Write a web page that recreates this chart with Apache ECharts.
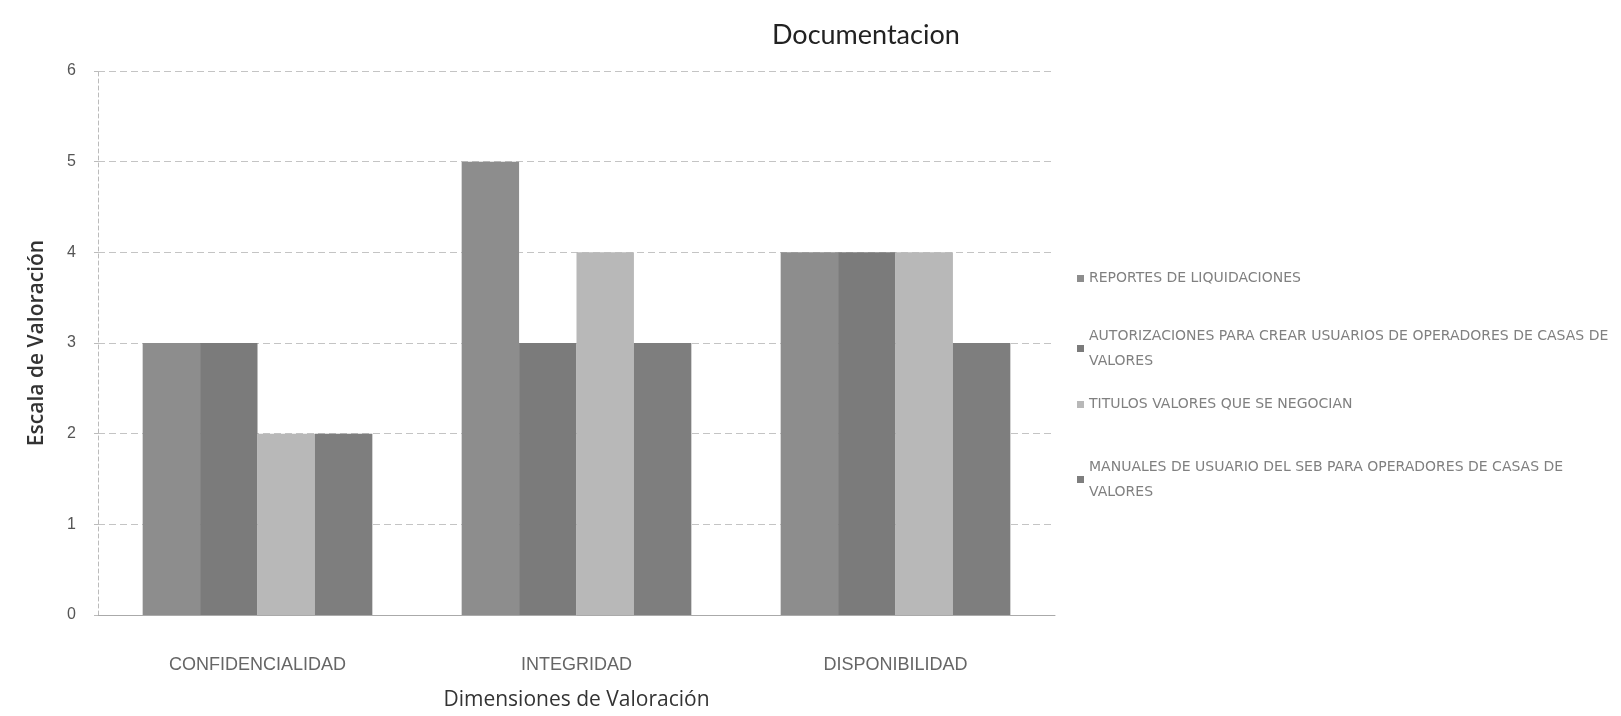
<!DOCTYPE html>
<html>
<head>
<meta charset="utf-8">
<script src="https://cdn.jsdelivr.net/npm/echarts@6/dist/echarts.min.js"></script>
<style>
    html, body { margin: 0; padding: 0; background: #fff; }
    #chart { width: 1621px; height: 716px; }
</style>
</head>
<body>
<div id="chart"></div>
<script>
    // datos
    var categorias = ["CONFIDENCIALIDAD", "INTEGRIDAD", "DISPONIBILIDAD"];
    var nombresSeries = [
        "REPORTES DE LIQUIDACIONES",
        "AUTORIZACIONES PARA CREAR USUARIOS DE OPERADORES DE CASAS DE VALORES",
        "TITULOS VALORES QUE SE NEGOCIAN",
        "MANUALES DE USUARIO DEL SEB PARA OPERADORES DE CASAS DE VALORES"
    ];
    var reportes = [3, 5, 4];
    var autorizaciones = [3, 3, 4];
    var titulos = [2, 4, 4];
    var manuales = [2, 3, 3];
    var ticksY = [0, 1, 2, 3, 4, 5, 6];

    var colores = ["#8d8d8d", "#7b7b7b", "#b8b8b8", "#7e7e7e"];
    var valores = [reportes, autorizaciones, titulos, manuales];

    var chart = echarts.init(document.getElementById("chart"));

    // una leyenda por serie, para poder separarlas como en el original
    var leyendaTop = [273, 343, 399, 474];
    var legends = nombresSeries.map(function (n, i) {
        var dosLineas = / DE VALORES$/.test(n);
        return {
            data: [n],
            left: 1072,
            top: dosLineas ? leyendaTop[i] - 37 : leyendaTop[i] - 12,
            itemWidth: 7,
            itemHeight: 7,
            itemGap: 6,
            icon: "rect",
            selectedMode: false,
            formatter: function (name) {
                return name.replace(/ DE VALORES$/, " DE\nVALORES");
            },
            textStyle: {
                fontFamily: "DejaVu Sans",
                fontSize: 14,
                color: "#808080",
                lineHeight: 25,
                padding: dosLineas ? [25, 0, 0, 0] : 0
            }
        };
    });

    var option = {
        backgroundColor: "#fff",
        animation: false,
        title: {
            text: "Documentacion",
            left: 767,
            top: 17,
            textStyle: {
                fontFamily: "Lato",
                fontSize: 27,
                fontWeight: "normal",
                color: "#222"
            }
        },
        legend: legends,
        grid: {
            left: 98,
            right: 566,
            top: 71,
            bottom: 100
        },
        xAxis: {
            type: "category",
            data: categorias,
            name: "Dimensiones de Valoración",
            nameLocation: "middle",
            nameGap: 75,
            nameTextStyle: {
                fontFamily: "Open Sans",
                fontSize: 21,
                color: "#333"
            },
            axisLine: {
                lineStyle: { color: "#aaa", width: 1 }
            },
            axisTick: { show: false },
            axisLabel: {
                margin: 41,
                fontFamily: "Liberation Sans",
                fontSize: 18,
                color: "#666"
            }
        },
        yAxis: {
            type: "value",
            min: 0,
            max: 6,
            interval: 1,
            name: "Escala de Valoración",
            nameLocation: "middle",
            nameGap: 50,
            nameTextStyle: {
                fontFamily: "Open Sans",
                fontSize: 21,
                fontWeight: 600,
                color: "#333"
            },
            axisLine: {
                show: true,
                lineStyle: { color: "#bbb", width: 1, type: [4, 3] }
            },
            axisTick: {
                show: true,
                length: 4,
                lineStyle: { color: "#bbb" }
            },
            axisLabel: {
                margin: 22,
                fontFamily: "Liberation Sans",
                fontSize: 16,
                color: "#555",
                formatter: function (v) {
                    return ticksY.indexOf(v) >= 0 ? String(v) : "";
                }
            },
            splitLine: {
                lineStyle: { color: "#c4c4c4", width: 1, type: [7, 4] }
            }
        },
        series: nombresSeries.map(function (n, i) {
            return {
                name: n,
                type: "bar",
                data: valores[i],
                barGap: 0,
                barCategoryGap: "28%",
                itemStyle: { color: colores[i] }
            };
        })
    };

    chart.setOption(option);
</script>
</body>
</html>
